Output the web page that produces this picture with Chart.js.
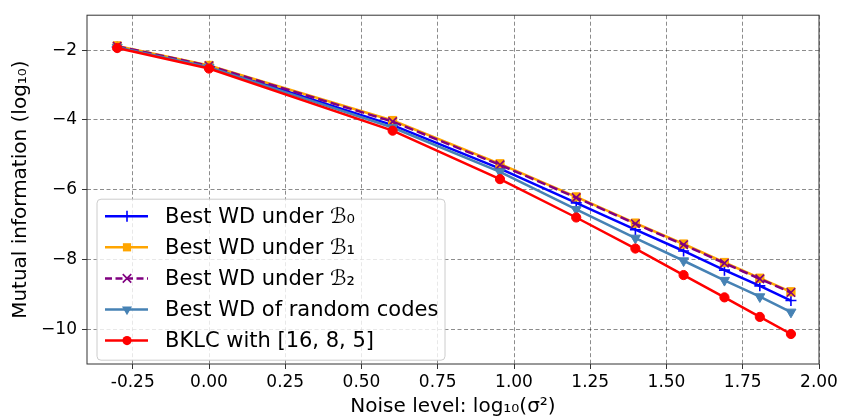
<!DOCTYPE html>
<html>
<head>
<meta charset="utf-8">
<script src="https://cdn.jsdelivr.net/npm/chart.js@4/dist/chart.umd.min.js"></script>
<style>
  html, body { margin: 0; padding: 0; background: #fff; }
  canvas { display: block; }
</style>
</head>
<body>
<canvas id="chart" width="841" height="419"></canvas>
<script>
// x = log10(sigma^2) for sigma^2 = 0.5, 1, 4, 9, 16, 25, 36, 49, 64, 81
const noiseLevels = [-0.301, 0, 0.602, 0.954, 1.204, 1.398, 1.556, 1.690, 1.806, 1.908];

const bestB0 = [-1.91, -2.47, -4.15, -5.40, -6.38, -7.15, -7.76, -8.31, -8.76, -9.18];
const bestB1 = [-1.88, -2.44, -4.02, -5.26, -6.21, -6.96, -7.56, -8.09, -8.54, -8.93];
const bestB2 = [-1.89, -2.45, -4.05, -5.29, -6.23, -6.98, -7.58, -8.11, -8.56, -8.95];
const randomCodes = [-1.92, -2.49, -4.22, -5.49, -6.57, -7.39, -8.04, -8.60, -9.07, -9.51];
const bklc = [-1.94, -2.53, -4.31, -5.70, -6.80, -7.69, -8.45, -9.09, -9.65, -10.14];

const seriesLabels = [
  "Best WD under ℬ₀",
  "Best WD under ℬ₁",
  "Best WD under ℬ₂",
  "Best WD of random codes",
  "BKLC with [16, 8, 5]"
];

const xTicks = [-0.25, 0, 0.25, 0.5, 0.75, 1.0, 1.25, 1.5, 1.75, 2.0];
const yTicks = [-10, -8, -6, -4, -2];

const FONT = "'DejaVu Sans', sans-serif";

function toPoints(ys) {
  return noiseLevels.map((x, i) => ({ x: x, y: ys[i] }));
}

// draw one marker by hand (used for the legend)
function drawMarker(ctx, style, x, y, r, color, lw) {
  ctx.save();
  ctx.strokeStyle = color;
  ctx.fillStyle = color;
  ctx.lineWidth = lw;
  ctx.setLineDash([]);
  ctx.beginPath();
  if (style === "circle") {
    ctx.arc(x, y, r, 0, Math.PI * 2);
    ctx.fill();
  } else if (style === "rect") {
    const s = r * Math.SQRT1_2;
    ctx.rect(x - s, y - s, 2 * s, 2 * s);
    ctx.fill();
  } else if (style === "cross") {
    ctx.moveTo(x - r, y); ctx.lineTo(x + r, y);
    ctx.moveTo(x, y - r); ctx.lineTo(x, y + r);
    ctx.stroke();
  } else if (style === "crossRot") {
    const s = r * Math.SQRT1_2;
    ctx.moveTo(x - s, y - s); ctx.lineTo(x + s, y + s);
    ctx.moveTo(x - s, y + s); ctx.lineTo(x + s, y - s);
    ctx.stroke();
  } else if (style === "triangleDown") {
    ctx.moveTo(x - r * 0.866, y - r * 0.5);
    ctx.lineTo(x + r * 0.866, y - r * 0.5);
    ctx.lineTo(x, y + r);
    ctx.closePath();
    ctx.fill();
  }
  ctx.restore();
}

const styles = [
  { color: "#0000ff", marker: "cross", radius: 5.5, dash: [], pointWidth: 1.6 },
  { color: "#ffa500", marker: "rect", radius: 5.8, dash: [], pointWidth: 1 },
  { color: "#800080", marker: "crossRot", radius: 6, dash: [9, 4], pointWidth: 1.6 },
  { color: "#4682b4", marker: "triangleDown", radius: 5.8, dash: [], pointWidth: 1 },
  { color: "#ff0000", marker: "circle", radius: 4.6, dash: [], pointWidth: 1 }
];

const seriesData = [bestB0, bestB1, bestB2, randomCodes, bklc];

const datasets = seriesData.map((ys, i) => {
  const st = styles[i];
  const isTri = st.marker === "triangleDown";
  return {
    label: seriesLabels[i],
    data: toPoints(ys),
    borderColor: st.color,
    backgroundColor: st.color,
    borderWidth: 2.5,
    borderDash: st.dash,
    pointStyle: isTri ? "triangle" : st.marker,
    rotation: isTri ? 180 : 0,
    pointRadius: st.radius,
    pointBorderWidth: st.pointWidth,
    pointBackgroundColor: st.color,
    pointBorderColor: st.color,
    tension: 0,
    order: 5 - i
  };
});

// axes frame, drawn on top of the grid
const framePlugin = {
  id: "frame",
  beforeDatasetsDraw(chart) {
    const { ctx, chartArea: a } = chart;
    ctx.save();
    ctx.strokeStyle = "#333";
    ctx.lineWidth = 1;
    ctx.strokeRect(a.left, a.top, a.right - a.left, a.bottom - a.top);
    ctx.restore();
  }
};

// matplotlib-like legend: line + marker + text in a rounded box
const legendPlugin = {
  id: "mplLegend",
  afterDatasetsDraw(chart) {
    const { ctx, chartArea: a } = chart;
    const bx = a.left + 10, by = a.top + 184, bw = 348, bh = 161, rad = 4;
    ctx.save();
    ctx.beginPath();
    ctx.moveTo(bx + rad, by);
    ctx.arcTo(bx + bw, by, bx + bw, by + bh, rad);
    ctx.arcTo(bx + bw, by + bh, bx, by + bh, rad);
    ctx.arcTo(bx, by + bh, bx, by, rad);
    ctx.arcTo(bx, by, bx + bw, by, rad);
    ctx.closePath();
    ctx.fillStyle = "rgba(255,255,255,0.8)";
    ctx.fill();
    ctx.strokeStyle = "#cccccc";
    ctx.lineWidth = 1;
    ctx.stroke();

    ctx.font = "21px " + FONT;
    ctx.textBaseline = "middle";
    ctx.fillStyle = "#000";
    seriesLabels.forEach((label, i) => {
      const st = styles[i];
      const y = by + 17 + i * 31.1;
      ctx.beginPath();
      ctx.strokeStyle = st.color;
      ctx.lineWidth = 2.5;
      ctx.setLineDash(st.dash.length ? [7, 3.5] : []);
      ctx.moveTo(bx + 8, y);
      ctx.lineTo(bx + 51, y);
      ctx.stroke();
      drawMarker(ctx, st.marker, bx + 30, y, st.radius, st.color, st.pointWidth);
      ctx.fillStyle = "#000";
      ctx.fillText(label, bx + 68, y + 1);
    });
    ctx.restore();
  }
};

new Chart(document.getElementById("chart"), {
  type: "line",
  data: { datasets },
  options: {
    responsive: false,
    animation: false,
    layout: { padding: { top: 8, right: 22, left: 0, bottom: 0 } },
    plugins: { legend: { display: false }, tooltip: { enabled: false } },
    scales: {
      x: {
        type: "linear",
        min: -0.4,
        max: 2.0,
        afterBuildTicks: (scale) => { scale.ticks = xTicks.map((v) => ({ value: v })); },
        afterFit: (scale) => { scale.height = 55; },
        ticks: {
          font: { family: FONT, size: 17 },
          color: "#000",
          padding: 3,
          maxRotation: 0,
          callback: (v) => v.toFixed(2)
        },
        grid: {
          color: "rgba(0,0,0,0.45)",
          lineWidth: 1,
          drawTicks: true,
          tickLength: 5,
          tickColor: "#333",
          tickBorderDash: [6, 0]
        },
        border: { display: false, dash: [4, 2.5] },
        title: {
          display: true,
          text: "Noise level: log₁₀(σ²)",
          font: { family: FONT, size: 20 },
          color: "#000",
          padding: { top: 0, bottom: 0 }
        }
      },
      y: {
        min: -11,
        max: -1,
        afterBuildTicks: (scale) => { scale.ticks = yTicks.map((v) => ({ value: v })); },
        afterFit: (scale) => { scale.width = 87; },
        ticks: {
          font: { family: FONT, size: 17 },
          color: "#000",
          padding: 5,
          callback: (v) => "\u2212" + Math.abs(v)
        },
        grid: {
          color: "rgba(0,0,0,0.45)",
          lineWidth: 1,
          drawTicks: true,
          tickLength: 5,
          tickColor: "#333",
          tickBorderDash: [6, 0]
        },
        border: { display: false, dash: [4, 2.5] },
        title: {
          display: true,
          text: "Mutual information (log₁₀)",
          font: { family: FONT, size: 20 },
          color: "#000",
          padding: { top: 9, bottom: 0 }
        }
      }
    }
  },
  plugins: [framePlugin, legendPlugin]
});
</script>
</body>
</html>
